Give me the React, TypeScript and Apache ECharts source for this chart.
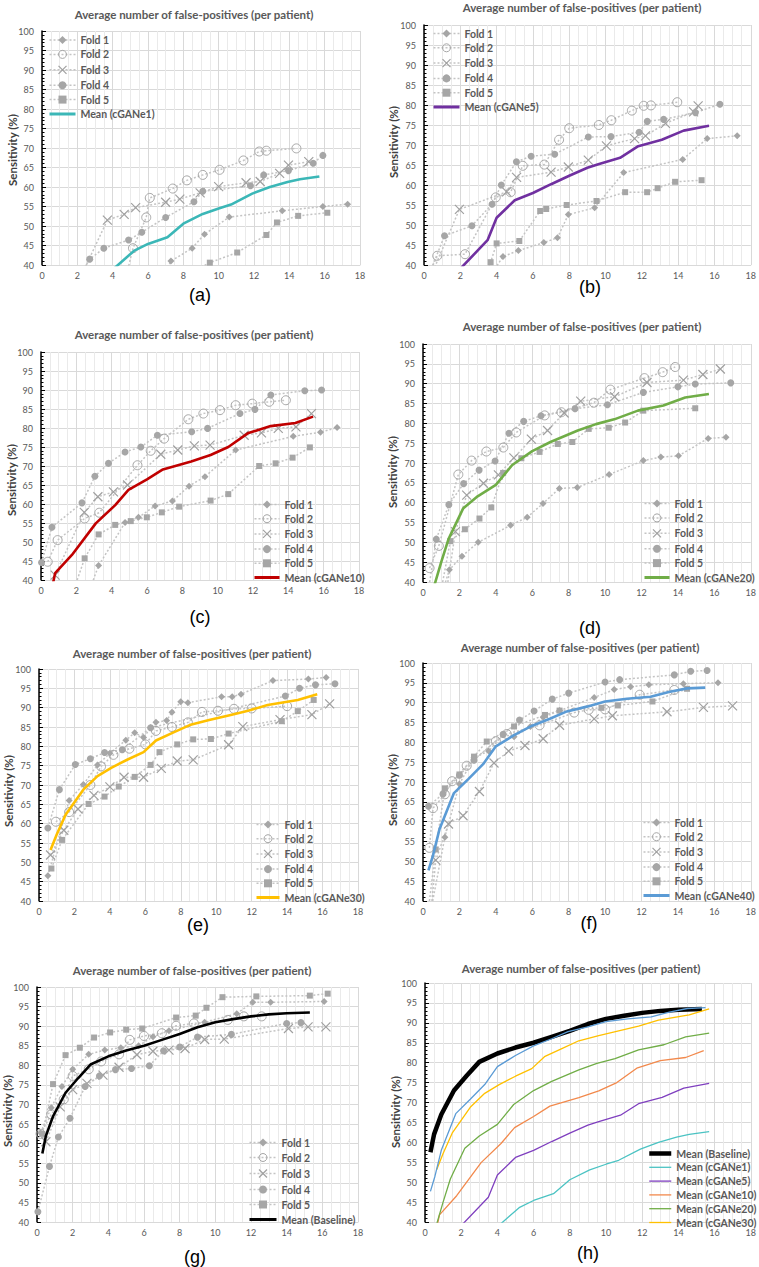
import React, { useEffect, useRef } from 'react';
import * as echarts from 'echarts';

// ---------- axis settings ----------
const X_MIN = 0, X_MAX = 18, X_STEP = 2;
const Y_MIN = 40, Y_MAX = 100, Y_STEP = 5;
const TITLE_TEXT = 'Average number of false-positives (per patient)';
const Y_NAME = 'Sensitivity (%)';
const FOLD_NAMES = ['Fold 1', 'Fold 2', 'Fold 3', 'Fold 4', 'Fold 5'];
const PANEL_LABELS = ['(a)', '(b)', '(c)', '(d)', '(e)', '(f)', '(g)', '(h)'];

// ---------- mean curves ----------
const meanE1 = [[3.9,38.4],[5.2,43.6],[6.0,45.4],[7.1,47.1],[8.0,50.6],[9.1,53.1],[10.0,54.5],[10.7,55.5],[11.9,58.3],[12.9,60.0],[13.9,61.3],[14.6,62.0],[15.7,62.7]];
const meanE5 = [[1.9,38.6],[3.5,46.2],[4.0,51.8],[5.0,56.2],[6.0,58.0],[7.0,60.2],[8.0,62.3],[9.0,64.3],[9.6,65.2],[10.8,66.8],[11.8,69.7],[13.1,71.3],[14.3,73.6],[15.7,74.8]];
const meanE10 = [[0.65,38.5],[0.8,41.8],[1.75,46.6],[3.1,54.9],[4.2,59.7],[4.95,63.7],[6.0,66.5],[6.9,69.1],[8.5,71.2],[9.6,72.9],[10.6,75.0],[11.7,78.6],[13.0,80.5],[14.4,81.3],[15.4,83.0]];
const meanE20 = [[0.55,38],[1.0,45],[1.4,50.8],[2.2,58.5],[3.0,61.6],[4.0,64.5],[4.9,69.5],[6.0,73.0],[7.0,75.3],[8.5,78.2],[9.5,79.8],[10.5,81.0],[11.8,83.2],[13.2,84.5],[14.4,86.5],[15.7,87.4]];
const meanE30 = [[0.65,53.2],[1.0,57.2],[1.5,62.3],[2.5,68.8],[3.3,72.3],[4.1,74.5],[5.0,76.6],[5.9,78.5],[6.6,81.5],[7.5,83.4],[8.5,85.5],[9.6,86.8],[10.7,88.0],[11.8,89.2],[12.9,90.7],[14.6,92.0],[15.7,93.5]];
const meanE40 = [[0.3,47.7],[0.55,51.5],[0.9,58.0],[1.7,67.2],[2.5,70.8],[3.3,74.5],[4.0,79.0],[5.0,81.8],[6.0,84.2],[7.0,86.0],[7.9,87.8],[9.0,89.0],[10.0,90.3],[11.2,91.0],[12.5,91.5],[13.5,92.7],[14.5,93.6],[15.5,93.8]];
const meanBase = [[0.3,57.5],[0.5,62.0],[0.9,67.0],[1.6,73.0],[2.3,76.7],[3.0,80.2],[4.0,82.3],[5.0,83.8],[6.0,85.0],[7.0,86.5],[8.0,88.0],[9.0,89.7],[10.0,91.0],[11.0,91.8],[12.0,92.5],[13.0,93.0],[14.0,93.3],[15.3,93.5]];

// ---------- folds (a) cGANe1 ----------
const a1 = [[6.9,37.5],[7.3,41.0],[8.5,44.3],[9.2,47.9],[10.6,52.3],[13.6,53.9],[15.9,55.0],[17.3,55.6]];
const a2 = [[4.8,37.8],[5.15,44.3],[5.9,52.2],[6.1,57.2],[7.4,59.6],[8.2,61.7],[9.1,63.1],[10.05,64.4],[11.4,66.8],[12.3,69.1],[12.7,69.3],[14.4,69.9]];
const a3 = [[2.3,38.0],[3.7,51.5],[4.65,53.0],[5.3,54.7],[7.0,56.1],[7.8,56.9],[8.95,58.5],[10.0,60.1],[11.55,61.1],[12.35,61.4],[13.45,63.5],[13.95,65.6],[15.1,66.5]];
const a4 = [[2.3,38.5],[2.7,41.5],[3.5,44.3],[4.9,46.4],[5.65,48.4],[7.0,52.2],[8.6,56.2],[9.1,58.9],[11.8,60.3],[12.55,63.1],[13.95,64.2],[15.35,66.1],[15.9,68.1]];
const a5 = [[8.6,38.5],[9.5,40.6],[11.05,43.2],[12.7,47.7],[13.3,50.9],[14.5,52.6],[16.15,53.4]];
// ---------- folds (b) cGANe5 ----------
const b1 = [[3.9,39.0],[4.35,42.1],[5.2,43.6],[6.6,45.6],[7.35,46.8],[7.95,52.6],[9.4,54.3],[11.0,63.1],[14.25,66.4],[15.6,71.6],[17.25,72.3]];
const b2 = [[0.4,39.0],[0.73,42.3],[2.26,42.7],[3.95,56.9],[4.77,58.2],[5.44,64.8],[6.63,65.1],[7.44,71.3],[8.0,74.2],[9.63,75.0],[10.32,76.2],[11.45,78.6],[12.1,79.8],[12.5,79.9],[13.95,80.7]];
const b3 = [[0.5,38.5],[1.95,53.9],[4.55,58.3],[5.1,61.9],[7.0,63.2],[7.95,64.5],[9.05,66.2],[10.05,69.8],[11.6,71.6],[12.2,72.3],[13.3,75.4],[14.85,78.3],[15.1,79.8]];
const b4 = [[0.4,39.0],[1.13,47.3],[2.64,49.8],[3.75,55.2],[4.26,60.0],[5.09,65.8],[5.9,67.2],[7.2,67.7],[9.05,72.0],[10.3,72.1],[11.85,73.2],[12.3,75.9],[13.2,76.4],[14.95,78.1],[16.3,80.2]];
const b5 = [[3.5,38.5],[3.67,40.7],[4.0,45.4],[5.25,46.0],[6.4,53.5],[6.73,54.0],[7.86,55.0],[9.5,56.0],[11.08,58.2],[12.29,58.2],[12.87,59.2],[13.83,60.8],[15.29,61.2]];
// ---------- folds (c) cGANe10 ----------
const c1 = [[2.8,38.0],[3.26,43.8],[4.76,55.1],[5.52,56.5],[6.46,59.5],[7.44,60.8],[8.38,64.7],[9.28,67.2],[11.02,74.2],[14.28,77.8],[15.82,78.9],[16.76,80.1]];
const c2 = [[0.38,44.8],[0.94,50.5],[2.47,56.2],[3.3,57.7],[5.46,70.2],[6.21,74.0],[6.97,77.2],[8.34,82.3],[9.19,83.8],[10.13,84.7],[11.02,86.0],[11.96,86.4],[12.92,86.9],[13.86,87.3]];
const c3 = [[0.8,41.3],[2.45,57.8],[3.22,61.9],[4.1,63.2],[4.9,65.0],[6.78,73.1],[7.74,74.2],[8.68,75.3],[9.57,75.5],[11.5,78.1],[12.48,78.7],[13.43,79.9],[14.43,80.3],[15.31,83.8]];
const c4 = [[0.03,44.6],[0.62,53.9],[2.32,60.3],[3.05,67.3],[3.82,70.7],[4.76,73.7],[5.65,75.0],[6.59,78.1],[8.53,79.0],[9.43,79.9],[11.26,83.8],[12.11,84.9],[13.01,88.7],[14.93,89.8],[15.88,90.0]];
const c5 = [[1.9,38.0],[2.47,45.7],[3.26,52.0],[4.2,54.5],[5.08,55.5],[5.99,56.5],[6.84,57.8],[7.82,59.3],[9.6,60.9],[10.6,62.6],[12.35,70.0],[13.28,70.7],[14.24,72.2],[15.22,74.9]];
// ---------- folds (d) cGANe20 ----------
const d1 = [[1.1,38.0],[1.45,43.1],[2.14,46.5],[3.03,50.0],[4.81,54.3],[5.72,56.3],[6.59,59.8],[7.49,63.6],[8.47,63.8],[10.22,67.1],[12.1,70.6],[13.06,71.5],[14.03,71.8],[15.66,76.2],[16.64,76.5]];
const d2 = [[0.36,43.5],[0.87,49.1],[1.94,67.1],[2.67,70.6],[3.48,72.9],[4.41,73.9],[5.12,77.7],[6.68,82.0],[7.6,82.8],[9.38,85.2],[10.29,88.5],[12.16,91.4],[13.16,92.9],[13.85,94.2]];
const d3 = [[1.3,38.0],[1.78,52.7],[2.4,61.9],[3.32,64.9],[4.14,67.0],[4.99,71.3],[5.95,76.0],[6.84,78.2],[7.75,82.6],[8.66,85.6],[10.52,86.7],[12.3,90.3],[14.3,90.9],[15.37,92.3],[16.33,93.7]];
const d4 = [[0.3,38.0],[0.73,50.8],[1.42,59.5],[2.23,64.8],[3.08,68.2],[3.96,70.5],[4.72,77.5],[5.53,80.5],[6.48,81.9],[8.35,83.7],[10.13,84.7],[12.1,87.8],[14.0,89.2],[14.95,89.9],[16.9,90.2]];
const d5 = [[1.0,38.0],[1.5,50.3],[2.3,53.3],[3.1,56.0],[3.75,58.8],[4.4,67.5],[5.4,71.2],[6.4,72.8],[7.4,74.8],[8.2,75.3],[9.1,78.6],[10.2,78.9],[11.1,80.2],[12.1,83.2],[14.95,83.8]];
// ---------- folds (e) cGANe30 ----------
const e1 = [[0.5,46.5],[1.7,66.0],[2.5,70.1],[3.3,75.2],[4.0,78.2],[4.9,81.6],[5.4,83.5],[5.9,82.3],[6.3,84.8],[6.6,86.2],[7.2,86.7],[7.5,88.8],[8.0,91.5],[8.4,91.3],[10.3,92.8],[10.9,92.8],[11.4,93.5],[13.2,97.0],[15.2,97.4],[16.2,97.8]];
const e2 = [[0.95,60.5],[1.7,63.0],[2.9,70.0],[3.5,74.8],[4.2,77.8],[5.1,79.4],[6.0,80.5],[6.6,84.0],[7.5,85.0],[8.4,86.2],[9.2,88.9],[10.1,89.2],[11.0,89.7],[12.0,89.8],[14.0,90.4]];
const e3 = [[0.65,51.9],[1.4,58.3],[2.2,63.8],[3.1,67.3],[4.0,69.5],[4.8,72.0],[5.9,72.0],[6.9,74.3],[7.8,76.2],[8.7,76.5],[10.7,80.4],[11.5,85.1],[13.6,86.9],[15.4,88.2],[16.4,91.0]];
const e4 = [[0.5,58.9],[1.15,68.8],[2.05,75.3],[2.9,76.8],[3.7,78.4],[4.7,79.1],[6.3,84.8],[13.9,93.0],[14.7,95.0],[15.6,95.9],[16.7,96.2]];
const e5 = [[0.7,48.4],[1.3,55.8],[2.8,65.1],[3.7,67.0],[4.5,69.6],[5.4,72.1],[6.3,75.2],[6.8,78.5],[7.8,80.5],[8.7,81.8],[9.7,81.9],[10.7,83.3],[13.7,86.5],[14.6,89.1],[15.5,92.0]];
// ---------- folds (f) cGANe40 ----------
const f1 = [[0.45,38.0],[1.2,56.1],[2.0,69.5],[2.8,76.1],[3.6,77.8],[4.4,81.9],[5.0,81.4],[5.9,84.0],[6.6,86.3],[7.5,88.0],[9.4,91.3],[10.5,93.3],[11.4,94.0],[12.4,94.5],[14.3,94.8],[16.2,95.0]];
const f2 = [[0.35,53.4],[0.55,63.4],[1.2,66.9],[1.6,70.2],[2.4,74.1],[4.0,80.3],[4.6,82.1],[6.4,84.3],[8.3,87.5],[9.1,88.2],[10.0,88.3],[11.9,92.0],[13.8,93.2]];
const f3 = [[0.45,38.0],[0.7,50.3],[1.4,59.4],[2.2,61.5],[3.1,67.6],[3.9,74.8],[4.7,77.8],[5.6,79.2],[6.6,80.9],[7.5,84.3],[9.4,85.9],[10.4,86.7],[13.4,87.7],[15.4,88.8],[17.0,89.2]];
const f4 = [[0.3,63.9],[1.1,67.0],[2.0,71.7],[2.8,75.5],[4.4,82.0],[5.3,85.6],[6.1,87.9],[7.1,90.9],[8.0,92.4],[10.0,95.2],[10.8,95.8],[13.8,97.0],[14.7,97.9],[15.6,98.1]];
const f5 = [[0.3,38.0],[0.7,53.0],[1.2,68.4],[2.0,71.9],[2.8,76.4],[3.5,80.2],[5.0,84.0],[6.7,86.9],[7.5,88.0],[9.8,88.7],[10.7,89.3],[12.6,90.3],[14.5,93.5]];
// ---------- folds (g) Baseline ----------
const g1 = [[0.2,62.8],[0.8,69.2],[1.4,74.6],[2.0,79.0],[2.9,82.8],[3.8,83.9],[4.7,84.5],[5.7,85.0],[6.5,87.3],[7.4,88.8],[9.4,91.0],[11.2,93.2],[12.1,96.1],[13.1,96.1],[16.1,96.3]];
const g2 = [[0.2,62.5],[0.8,67.5],[1.5,71.3],[2.0,77.3],[2.9,79.0],[3.6,81.0],[4.6,82.8],[5.2,86.5],[6.0,87.5],[7.0,88.2],[7.8,90.1],[8.8,90.7],[10.7,91.6],[11.6,92.5],[12.6,92.5]];
const g3 = [[0.5,60.5],[1.3,69.4],[2.0,73.8],[2.8,75.4],[3.7,77.5],[4.6,79.5],[5.6,82.7],[6.5,83.6],[7.4,83.9],[8.3,84.3],[9.4,86.6],[10.5,86.7],[14.1,89.4],[15.2,89.8],[16.2,89.8]];
const g4 = [[0.05,42.6],[0.7,54.2],[1.2,61.7],[1.85,66.5],[2.7,74.6],[3.5,77.3],[4.4,78.9],[5.3,79.2],[6.3,79.9],[7.1,83.7],[8.0,84.7],[9.0,87.2],[10.9,87.9],[14.0,90.7],[14.8,90.9]];
const g5 = [[0.3,62.5],[0.9,75.2],[1.6,82.6],[2.4,84.5],[3.2,87.1],[4.1,88.4],[5.0,89.1],[5.9,89.4],[7.8,92.2],[8.9,92.7],[9.5,94.7],[10.4,97.4],[12.3,97.6],[15.3,97.8],[16.3,98.3]];

// ---------- styles ----------
const FONT = 'Lato';
const GRID_LINE = '#D9D9D9';
const MINOR_LINE = '#EAEAEA';
const FOLD_LINE = '#C4C4C4';
const MARK = '#A6A6A6';
const X_PATH = 'path://M0,0L10,10M10,0L0,10';

const foldLook = [
  { symbol: 'diamond', size: 7, item: { color: MARK, borderWidth: 0 } },
  { symbol: 'circle', size: 9, item: { color: 'rgba(255,255,255,0)', borderColor: MARK, borderWidth: 1 } },
  { symbol: X_PATH, size: 9, item: { color: 'none', borderColor: '#A0A0A0', borderWidth: 1.2 } },
  { symbol: 'circle', size: 7, item: { color: MARK, borderWidth: 0 } },
  { symbol: 'rect', size: 6, item: { color: MARK, borderWidth: 0 } },
];

type Panel = {
  g: number[]; title: number[]; yname: number[]; label: number[];
  folds?: number[][][]; mean?: { name: string; color: string; data: number[][] };
  legend: number[]; box?: number[];
};

// legend: [left, first item centre y, item pitch, itemWidth]
const panels: Panel[] = [
  { g: [42, 31, 318, 234], title: [194, 14], yname: [12, 150], label: [200, 295], folds: [a1, a2, a3, a4, a5], mean: { name: 'Mean (cGANe1)', color: '#3BB7B7', data: meanE1 }, legend: [48, 39.5, 14.4, 26], box: [42, 31, 152, 115] },
  { g: [424, 25, 330, 240], title: [582, 7], yname: [393, 142], label: [590, 287], folds: [b1, b2, b3, b4, b5], mean: { name: 'Mean (cGANe5)', color: '#7030A0', data: meanE5 }, legend: [432, 33, 14.3, 26], box: [425, 25, 540, 115] },
  { g: [41, 352, 318, 228], title: [194, 334], yname: [11, 480], label: [200, 617], folds: [c1, c2, c3, c4, c5], mean: { name: 'Mean (cGANe10)', color: '#C00000', data: meanE10 }, legend: [253, 504, 14.2, 25], box: [248, 497, 359, 580] },
  { g: [423, 344, 331, 238], title: [582, 326], yname: [392, 472], label: [590, 628], folds: [d1, d2, d3, d4, d5], mean: { name: 'Mean (cGANe20)', color: '#70AD47', data: meanE20 }, legend: [643, 503, 14.4, 25], box: [638, 493, 754, 582] },
  { g: [39, 669, 319, 232], title: [192, 653], yname: [8, 791], label: [198, 925], folds: [e1, e2, e3, e4, e5], mean: { name: 'Mean (cGANe30)', color: '#FFC000', data: meanE30 }, legend: [255, 824, 14.2, 23], box: [247, 817, 358, 901] },
  { g: [423, 663, 329, 238], title: [580, 647], yname: [392, 790], label: [589, 923], folds: [f1, f2, f3, f4, f5], mean: { name: 'Mean (cGANe40)', color: '#5B9BD5', data: meanE40 }, legend: [642, 822, 14.2, 26], box: [637, 814, 752, 901] },
  { g: [37, 987, 321, 235], title: [192, 970], yname: [7, 1111], label: [195, 1257], folds: [g1, g2, g3, g4, g5], mean: { name: 'Mean (Baseline)', color: '#000000', data: meanBase }, legend: [248, 1142, 15, 27], box: [245, 1133, 358, 1222] },
  { g: [425, 983, 327, 239], title: [581, 968], yname: [395, 1112], label: [588, 1253], legend: [647, 1153, 13.8, 22] },
];

// summary panel (h) lines
const summary = [
  { name: 'Mean (Baseline)', color: '#000000', width: 4.5, data: meanBase, inLegend: true },
  { name: 'Mean (cGANe1)', color: '#4BC3C3', width: 1.3, data: meanE1, inLegend: true },
  { name: 'Mean (cGANe5)', color: '#7F3FBF', width: 1.3, data: meanE5, inLegend: true },
  { name: 'Mean (cGANe10)', color: '#F2894C', width: 1.3, data: meanE10, inLegend: true },
  { name: 'Mean (cGANe20)', color: '#70AD47', width: 1.3, data: meanE20, inLegend: true },
  { name: 'Mean (cGANe30)', color: '#FFC000', width: 1.3, data: meanE30, inLegend: true },
  { name: 'Mean (cGANe40)', color: '#5B9BD5', width: 1.3, data: meanE40, inLegend: false },
];

const LEGEND_ITEM_H = 10;
const LEGEND_CONTENT_H = 11; // measured height of one legend row

function buildOption() {
  const grid: any[] = [], xAxis: any[] = [], yAxis: any[] = [], series: any[] = [], legend: any[] = [], graphic: any[] = [];
  panels.forEach((p, i) => {
    grid.push({ left: p.g[0], top: p.g[1], width: p.g[2], height: p.g[3] });
    xAxis.push({
      type: 'value', gridIndex: i, min: X_MIN, max: X_MAX, interval: X_STEP,
      axisLine: { show: true, onZero: false, lineStyle: { color: GRID_LINE } },
      axisTick: { show: false },
      axisLabel: { fontSize: 9, color: '#595959', margin: 6, fontFamily: FONT },
      splitLine: { show: true, lineStyle: { color: GRID_LINE, width: 1 } },
      minorTick: { show: false, splitNumber: 4 },
      minorSplitLine: { show: true, lineStyle: { color: MINOR_LINE, width: 1 } },
    });
    yAxis.push({
      type: 'value', gridIndex: i, min: Y_MIN, max: Y_MAX, interval: Y_STEP,
      axisLine: { show: true, onZero: false, lineStyle: { color: '#000', width: 1.5 } },
      axisTick: { show: true, inside: true, length: 4, lineStyle: { color: '#000' } },
      minorTick: { show: true, splitNumber: 5, length: 2.5, lineStyle: { color: '#000' } },
      axisLabel: { fontSize: 9, color: '#595959', margin: 8, fontFamily: FONT },
      splitLine: { show: true, lineStyle: { color: GRID_LINE, width: 1 } },
    });

    const legendData: any[] = [];
    if (p.folds && p.mean) {
      p.folds.forEach((d, k) => {
        const lk = foldLook[k];
        series.push({
          type: 'line', name: FOLD_NAMES[k], xAxisIndex: i, yAxisIndex: i, data: d,
          symbol: lk.symbol, symbolSize: lk.size, showSymbol: true, clip: true, z: 2,
          lineStyle: { color: FOLD_LINE, width: 1.5, type: [2, 2] },
          itemStyle: lk.item,
        });
        legendData.push({ name: FOLD_NAMES[k], lineStyle: { width: 1.5 }, itemStyle: { borderWidth: lk.item.borderWidth } });
      });
      series.push({
        type: 'line', name: p.mean.name, xAxisIndex: i, yAxisIndex: i, data: p.mean.data,
        symbol: 'none', clip: true, z: 3,
        lineStyle: { color: p.mean.color, width: 2.6 }, itemStyle: { color: p.mean.color },
      });
      legendData.push({ name: p.mean.name, lineStyle: { width: 3, color: p.mean.color }, itemStyle: { color: p.mean.color, opacity: 0 } });
    } else {
      summary.forEach((s) => {
        series.push({
          type: 'line', name: s.name, xAxisIndex: i, yAxisIndex: i, data: s.data,
          symbol: 'none', clip: true, z: 3,
          lineStyle: { color: s.color, width: s.width }, itemStyle: { color: s.color },
        });
        if (s.inLegend) legendData.push({ name: s.name, lineStyle: { width: s.width, color: s.color, type: 'solid' }, itemStyle: { color: s.color, opacity: 0 } });
      });
    }
    legend.push({
      orient: 'vertical', left: p.legend[0], top: p.legend[1] - LEGEND_ITEM_H / 2, padding: 0,
      itemWidth: p.legend[3], itemHeight: LEGEND_ITEM_H, itemGap: Math.max(0, p.legend[2] - LEGEND_CONTENT_H), selectedMode: false,
      textStyle: { fontSize: 10.5, fontWeight: 'bold', color: '#595959', fontFamily: FONT },
      data: legendData,
    });

    // titles, y name, panel label
    graphic.push({ type: 'text', x: p.title[0], y: p.title[1], z: 50,
      style: { text: TITLE_TEXT, align: 'center', verticalAlign: 'middle', fontSize: 11.5, fontWeight: 'bold', fontFamily: FONT, fill: '#595959' } });
    graphic.push({ type: 'text', x: p.yname[0], y: p.yname[1], rotation: Math.PI / 2, z: 50,
      style: { text: Y_NAME, align: 'center', verticalAlign: 'middle', fontSize: 11.5, fontWeight: 'bold', fontFamily: FONT, fill: '#404040' } });
    graphic.push({ type: 'text', x: p.label[0], y: p.label[1], z: 50,
      style: { text: PANEL_LABELS[i], align: 'center', verticalAlign: 'middle', fontSize: 18, fontFamily: 'Liberation Sans', fill: '#000' } });
    if (p.box) {
      const b = p.box;
      graphic.push({ type: 'line', z: 40, shape: { x1: b[0], y1: b[1], x2: b[2], y2: b[1] },
        style: { stroke: '#9C9C9C', lineWidth: 2.2, shadowBlur: 2, shadowColor: 'rgba(0,0,0,0.25)' } });
      graphic.push({ type: 'line', z: 40, shape: { x1: b[0], y1: b[1], x2: b[0], y2: b[3] },
        style: { stroke: '#8A8A8A', lineWidth: 2.5, shadowBlur: 2, shadowColor: 'rgba(0,0,0,0.25)' } });
    }
  });
  return {
    animation: false,
    backgroundColor: '#ffffff',
    textStyle: { fontFamily: FONT },
    grid, xAxis, yAxis, series, legend, graphic,
  };
}

export default function App() {
  const ref = useRef<HTMLDivElement>(null);
  useEffect(() => {
    if (!ref.current) return;
    const chart = echarts.init(ref.current, null, { renderer: 'svg' });
    chart.setOption(buildOption() as any);
    return () => chart.dispose();
  }, []);
  return <div ref={ref} style={{ position: 'absolute', left: 0, top: 0, width: 759, height: 1267, background: '#fff' }} />;
}
